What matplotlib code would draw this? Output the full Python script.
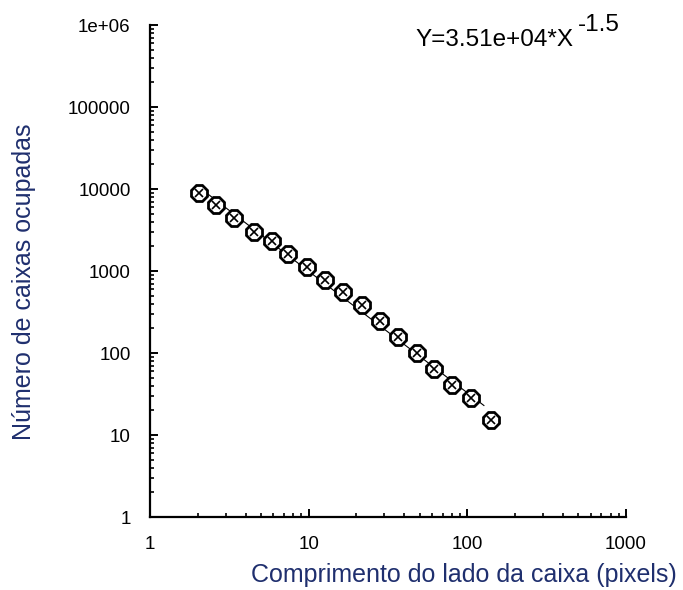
import numpy as np
import matplotlib
matplotlib.use('Agg')
import matplotlib.pyplot as plt
from matplotlib.ticker import LogLocator, FixedLocator, FixedFormatter, NullFormatter

plt.rcParams['font.family'] = ['Liberation Sans', 'DejaVu Sans']

# tamanho da caixa (pixels) e numero de caixas ocupadas
lado = [2.04, 2.61, 3.39, 4.53, 5.89, 7.43, 9.79, 12.7, 16.5, 21.8,
        28.3, 36.7, 48.4, 62.0, 80.0, 106.0, 140.0]
caixas = [8950, 6380, 4430, 2990, 2320, 1610, 1120, 777, 554, 385,
          246, 157, 100, 64, 40.7, 28.3, 15.2]

x_ticks = [1, 10, 100, 1000]
x_labels = ['1', '10', '100', '1000']
y_ticks = [1, 10, 100, 1000, 10000, 100000, 1000000]
y_labels = ['1', '10', '100', '1000', '10000', '100000', '1e+06']

cor_rotulo = '#1f2f6e'

fig = plt.figure(figsize=(6.83, 5.90), dpi=100)
ax = fig.add_axes([150/683, 1-517/590, (626-150)/683, (517-25)/590])

ax.set_xscale('log')
ax.set_yscale('log')
ax.set_xlim(1, 1000)
ax.set_ylim(1, 1e6)

# reta ajustada (log-log) sobre os dados
lx = np.log10(lado)
ly = np.log10(caixas)
coef = np.polyfit(lx, ly, 1)
xf = np.array([lado[0], lado[-2] * 1.2])
ax.plot(xf, 10**(coef[1]) * xf**coef[0], color='black', lw=0.8, zorder=2)

ax.plot(lado, caixas, ls='none', marker='8', ms=12.5, mfc='white', mec='black',
        mew=2.0, zorder=3)
ax.plot(lado, caixas, ls='none', marker='x', ms=6, mec='black', mew=1.2, zorder=4)

for s in ['top', 'right']:
    ax.spines[s].set_visible(False)
for s in ['left', 'bottom']:
    ax.spines[s].set_linewidth(1.6)

ax.xaxis.set_major_locator(FixedLocator(x_ticks))
ax.xaxis.set_major_formatter(FixedFormatter(x_labels))
ax.yaxis.set_major_locator(FixedLocator(y_ticks))
ax.yaxis.set_major_formatter(FixedFormatter(y_labels))
ax.xaxis.set_minor_locator(LogLocator(base=10, subs=np.arange(2, 10)))
ax.yaxis.set_minor_locator(LogLocator(base=10, subs=np.arange(2, 10)))
ax.xaxis.set_minor_formatter(NullFormatter())
ax.yaxis.set_minor_formatter(NullFormatter())

ax.tick_params(which='major', direction='in', length=6, width=1.4,
               labelsize=13.5, pad=14)
ax.tick_params(which='minor', direction='in', length=3, width=1.2)

fig.text(677/683, 1-575/590, 'Comprimento do lado da caixa (pixels)',
         ha='right', va='center', fontsize=18, color=cor_rotulo)
fig.text(24/683, 1-282/590, 'Número de caixas ocupadas', rotation=90,
         ha='center', va='center', fontsize=18, color=cor_rotulo)

fig.text(415/683, 1-46/590, 'Y=3.51e+04*X', ha='left', va='baseline',
         fontsize=17.5)
fig.text(578/683, 1-31/590, '-1.5', ha='left', va='baseline', fontsize=17.5)

fig.savefig('out.png', dpi=100)
